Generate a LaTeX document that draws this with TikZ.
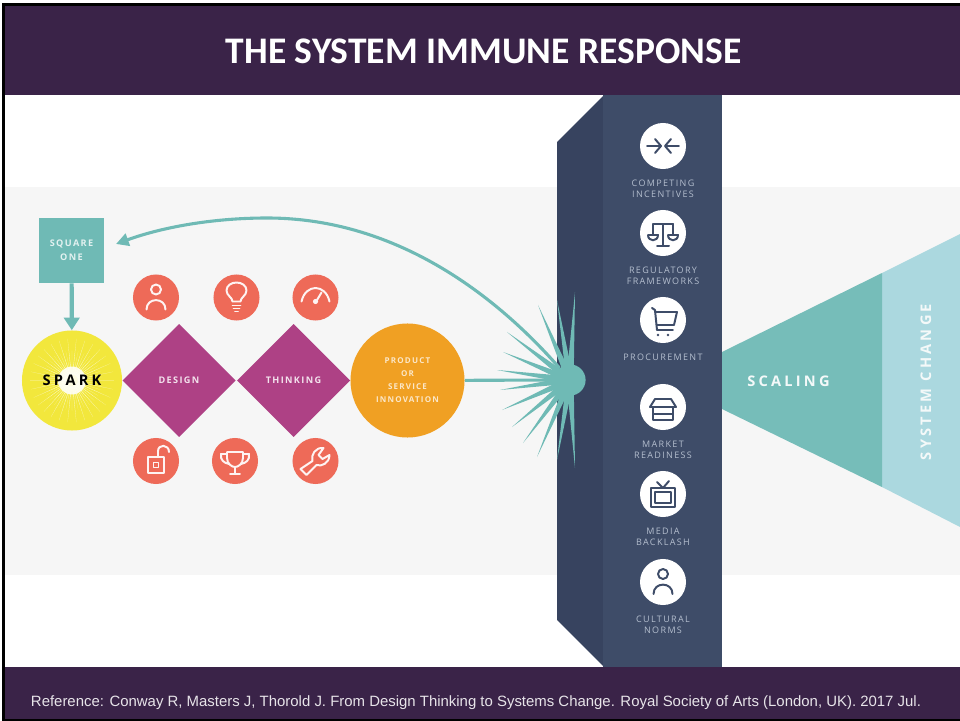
\documentclass[tikz,border=0pt]{standalone}
\usepackage{fontspec}
\setmainfont{Liberation Sans}
\newfontfamily\titlefont{Carlito}
\newfontfamily\wordfont[LetterSpace=15]{Open Sans}
\newfontfamily\capsfont[LetterSpace=22]{Open Sans}
\usetikzlibrary{arrows.meta}
\usetikzlibrary{calc}
\usetikzlibrary{positioning}
\usetikzlibrary{shapes.geometric}

\definecolor{bandpurple}{HTML}{3A2348}
\definecolor{paper}{HTML}{F6F6F6}
\definecolor{teal}{HTML}{6FBAB5}
\definecolor{palesky}{HTML}{ABD8DF}
\definecolor{wallfront}{HTML}{3E4C68}
\definecolor{wallside}{HTML}{37435F}
\definecolor{walltext}{HTML}{B4BECE}
\definecolor{sparkyellow}{HTML}{F2E73C}
\definecolor{magenta}{HTML}{AE4185}
\definecolor{orangeblob}{HTML}{F0A023}
\definecolor{coral}{HTML}{EE6A58}

\begin{document}
\begin{tikzpicture}[
      x = 0.025cm, y = -0.025cm,
      >=Triangle,
      flow/.style = { draw = teal, line width = 2.2pt },
      word/.style = { font = \wordfont\bfseries\fontsize{6.5}{10}\selectfont, align = center, inner sep = 0 },
      smallword/.style = { font = \wordfont\bfseries\fontsize{5.7}{9.2}\selectfont, align = center, inner sep = 0 },
      walltag/.style = { font = \wordfont\fontsize{6.4}{7.8}\selectfont, align = center, inner sep = 0, text = walltext },
      bigword/.style = { font = \capsfont\bfseries\fontsize{10.4}{12}\selectfont, text = white!92!teal, inner sep = 0 },
      petal/.style = { diamond, fill = magenta, aspect = 1, inner sep = 0, minimum size = 2.83cm, text = white!85!magenta },
      badge/.style = { circle, fill = coral, inner sep = 0, minimum size = 1.15cm },
      disc/.style = { circle, fill = white, inner sep = 0, minimum size = 1.15cm },
      iconline/.style = { line width = 1.4pt, line join = round, line cap = round },
      person/.pic = {
        \draw[iconline] (0,-8) circle (5);
        \draw[iconline] (-9.5,12) .. controls (-9.5,-0.5) and (9.5,-0.5) .. (9.5,12);
      },
      bulb/.pic = {
        \draw[iconline] (-4,4) .. controls (-4,0) and (-10,-2) .. (-10,-7) .. controls (-10,-12) and (-5,-15) .. (0,-15)
          .. controls (5,-15) and (10,-12) .. (10,-7) .. controls (10,-2) and (4,0) .. (4,4) -- cycle;
        \draw[iconline] (-4,8) -- (4,8) (-3,11) -- (3,11) (-1.5,14) -- (1.5,14);
      },
      gauge/.pic = {
        \draw[iconline] (-14,4) .. controls (-10,-14) and (10,-14) .. (14,4);
        \draw[iconline] (0,5) -- (6,-5);
        \fill (0,4) circle (2.6);
      },
      padlock/.pic = {
        \draw[iconline] (-8,-4) rectangle (8,12) (-2.5,1.5) rectangle (2.5,6.5);
        \draw[iconline] (2,-4) -- (2,-10) .. controls (2,-17) and (13,-17) .. (13,-9);
      },
      trophy/.pic = {
        \draw[iconline] (-8,-9) -- (8,-9) -- (8,-3) .. controls (8,3) and (3,6) .. (0,6) .. controls (-3,6) and (-8,3) .. (-8,-3) -- cycle;
        \draw[iconline] (-8,-7) -- (-14,-7) .. controls (-15,-1) and (-11,2) .. (-6,3);
        \draw[iconline] (8,-7) -- (14,-7) .. controls (15,-1) and (11,2) .. (6,3);
        \draw[iconline] (0,6) -- (0,13) (-5,13) -- (5,13);
      },
      wrench/.pic = {
        \draw[iconline] (-15,8) -- (-9,14) -- (1,4) .. controls (6,6) and (14,2) .. (14,-6) -- (7,-2) -- (3,-6)
          -- (8,-13) .. controls (0,-14) and (-5,-6) .. (-3,0) -- cycle;
      },
      squeeze/.pic = {
        \draw[iconline] (-16,0) -- (-2,0) (-8,-7) -- (-2,0) -- (-8,7);
        \draw[iconline] (16,0) -- (2,0) (8,-7) -- (2,0) -- (8,7);
      },
      balance/.pic = {
        \draw[iconline] (-10,-9) -- (10,-9) (0,-9) -- (0,13) (-6,13) -- (6,13);
        \draw[iconline] (-10,-9) -- (-10,2) (10,-9) -- (10,2);
        \draw[iconline] (-15,2) -- (-5,2) .. controls (-5,9) and (-15,9) .. (-15,2);
        \draw[iconline] (5,2) -- (15,2) .. controls (15,9) and (5,9) .. (5,2);
      },
      cart/.pic = {
        \draw[iconline] (-11,-12) -- (-8,-10) -- (-6,10) -- (10,10);
        \draw[iconline] (-8,-8) -- (14,-8) -- (11,5) -- (-6.5,5);
        \fill (-5,15) circle (1.3) (5,15) circle (1.3);
      },
      store/.pic = {
        \draw[iconline] (-8,-8) -- (8,-8) -- (13,0) -- (-13,0) -- cycle;
        \draw[iconline] (-10,0) -- (-10,13) -- (10,13) -- (10,0) (-10,7) -- (10,7);
      },
      telly/.pic = {
        \draw[iconline] (-12,-6) rectangle (12,13) (-8,-2) rectangle (8,9);
        \draw[iconline] (-6,-12) -- (0,-6) -- (6,-13);
      },
    ]

    \useasboundingbox (0,0) rectangle (960,721);
    \fill[black] (2,3) rectangle (960,721);
    \fill[white] (5,95) rectangle (960,667);
    \fill[paper] (5,187) rectangle (960,575);

    \fill[bandpurple] (5,6) rectangle (960,95);
    \fill[bandpurple] (5,667) rectangle (960,719);
    \node[text = white, inner sep = 0, font = \titlefont\bfseries\fontsize{26.7}{30}\selectfont] (headline) at (483.5,51) {THE SYSTEM IMMUNE RESPONSE};
    \node[text = white!88!bandpurple, inner sep = 0, font = \fontsize{10.62}{12}\selectfont] (reference) at (476,703) {Reference: Conway R, Masters J, Thorold J. From Design Thinking to Systems Change. Royal Society of Arts (London, UK). 2017 Jul.};

    % widening wedge on the right
    \fill[palesky] (882,273) -- (960,234) -- (960,527) -- (882,487) -- cycle;
    \fill[teal!95!white] (722,352) -- (882,273) -- (882,487) -- (722,409) -- cycle;
    \node[bigword] (scaling) at (788.5,381) {SCALING};
    \node[bigword, rotate = 90] (syschange) at (926,382) {SYSTEM CHANGE};

    % the wall
    \fill[wallside] (557,142) -- (604,95) -- (604,667) -- (557,620) -- cycle;
    \fill[wallfront] (603,95) rectangle (722,667);

    \foreach \y/\ic/\t [count=\i] in {146/squeeze/{COMPETING\\INCENTIVES}, 233/balance/{REGULATORY\\FRAMEWORKS}, 320/cart/{PROCUREMENT}, 407/store/{MARKET\\READINESS}, 494/telly/{MEDIA\\BACKLASH}, 582/person/{CULTURAL\\NORMS}} {
      \node[disc] (W\i) at (663,\y) {};
      \pic[wallfront] at (W\i) {\ic};
      \node[walltag, below = 7.4pt of W\i] (T\i) {\t};
    }

    % burst on the wall
    \node[circle, fill = teal, inner sep = 0, minimum size = 0.78cm] (burst) at (570,380) {};
    \foreach \x/\y in {575/292, 557/300, 538/305, 507/332, 503/352, 497/370, 500/390, 502/410, 512/427, 523/443, 537/457, 557/460, 575/468} {
      \fill[teal] ($(burst)!2.6pt!90:(\x,\y)$) -- (\x,\y) -- ($(burst)!2.6pt!-90:(\x,\y)$) -- cycle;
    }

    % left side
    \node[fill = teal, inner sep = 0, minimum size = 1.625cm, text = white!80!teal, word] (squareone) at (71.5,250.5) {SQUARE\\ONE};
    \node[circle, fill = sparkyellow, inner sep = 0, minimum size = 2.5cm] (spark) at (72,380.5) {};
    \foreach \a in {0,12,...,348} {
      \fill[white, opacity = 0.7] ($(spark)+(\a+3:6)$) -- ($(spark)+(\a:42)$) -- ($(spark)+(\a-3:6)$) -- cycle;
    }
    \foreach \a in {6,18,...,354} {
      \fill[white, opacity = 0.5] ($(spark)+(\a+3:6)$) -- ($(spark)+(\a:30)$) -- ($(spark)+(\a-3:6)$) -- cycle;
    }
    \fill[white, opacity = 0.85] (spark) circle (14);
    \node[inner sep = 0, text = black, font = \capsfont\bfseries\fontsize{10.4}{12}\selectfont] (sparkword) at (spark) {SPARK};

    \node[petal, word] (design) at (179,380.5) {DESIGN};
    \node[petal, word] (thinking) at (293.5,380.5) {THINKING};
    \node[circle, fill = orangeblob, inner sep = 0, minimum size = 2.85cm, text = white!75!orangeblob, smallword] (product) at (407.5,380.5) {PRODUCT\\OR\\SERVICE\\INNOVATION};

    \foreach \x/\y/\ic [count=\i] in {156/297.5/person, 236.5/297.5/bulb, 315.5/297.5/gauge, 156/461/padlock, 235/461/trophy, 315.5/461/wrench} {
      \node[badge] (B\i) at (\x,\y) {};
      \pic[white!92!coral] at (B\i) {\ic};
    }

    \coordinate (arctip) at (116,244);
    \coordinate (arctop) at (267,218);
    \draw[flow, line width = 3pt, -{Triangle[length = 9pt, width = 11pt]}] (squareone) to (spark);
    \draw[flow] (product) to (burst);
    \draw[flow, -{Triangle[length = 9pt, width = 9pt]}] (burst) .. controls (500,300) and (400,218) .. (arctop) .. controls (210,218) and (160,228) .. (arctip);
  \end{tikzpicture}
\end{document}
